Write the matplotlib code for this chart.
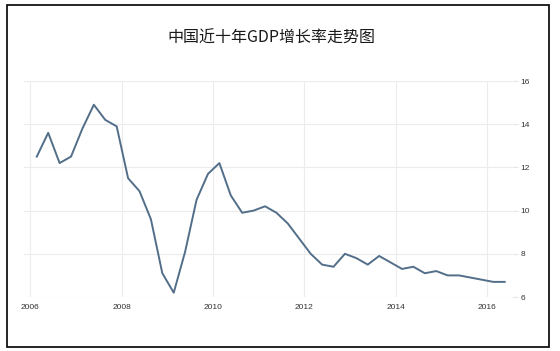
import matplotlib
matplotlib.use('Agg')
import matplotlib.pyplot as plt
import pandas as pd

plt.rcParams['font.family'] = ['Noto Sans CJK SC', 'DejaVu Sans']

# quarterly GDP growth, 2006Q1 .. 2016Q2
quarters = pd.period_range('2006Q1', '2016Q2', freq='Q')
growth = [12.5, 13.6, 12.2, 12.5, 13.8, 14.9, 14.2, 13.9,
          11.5, 10.9, 9.6, 7.1, 6.2, 8.1, 10.5, 11.7,
          12.2, 10.7, 9.9, 10.0, 10.2, 9.9, 9.4, 8.7,
          8.0, 7.5, 7.4, 8.0, 7.8, 7.5, 7.9, 7.6,
          7.3, 7.4, 7.1, 7.2, 7.0, 7.0, 6.9, 6.8,
          6.7, 6.7]
x_ticks = [2006, 2008, 2010, 2012, 2014, 2016]
y_ticks = [6, 8, 10, 12, 14, 16]
title = '中国近十年GDP增长率走势图'

# middle of each quarter as decimal year
xs = [q.year + (q.quarter - 1) / 4 + 0.14 for q in quarters]

fig = plt.figure(figsize=(5.6, 3.51), dpi=100)
ax = fig.add_axes([24 / 560, 54 / 351, 488 / 560, 216 / 351])

ax.plot(xs, growth, color='#526e89', linewidth=1.4)

ax.set_xlim(2005.86, 2016.55)
ax.set_ylim(6, 16)
ax.set_xticks(x_ticks)
ax.set_yticks(y_ticks)
ax.yaxis.tick_right()
ax.grid(True, color='#ececec', linewidth=0.8)
ax.set_axisbelow(True)
for s in ax.spines.values():
    s.set_visible(False)
ax.tick_params(axis='x', length=0, pad=5, labelsize=6, labelcolor='#333333')
ax.tick_params(axis='y', length=4, pad=2, color='#e6e6e6', labelsize=6, labelcolor='#333333')
for lab in ax.get_xticklabels() + ax.get_yticklabels():
    lab.set_family(['Liberation Sans', 'DejaVu Sans'])

fig.text(271 / 560, 1 - 38 / 351, title, ha='center', va='center',
         fontsize=11.5, fontweight='medium', color='#1a1a1a')

# black frame around the picture
frame = plt.Rectangle((7 / 560, 1 - 347 / 351), 542 / 560, 342 / 351,
                      transform=fig.transFigure, fill=False,
                      edgecolor='black', linewidth=1.2)
fig.patches.append(frame)

fig.savefig('out.png', dpi=100)
